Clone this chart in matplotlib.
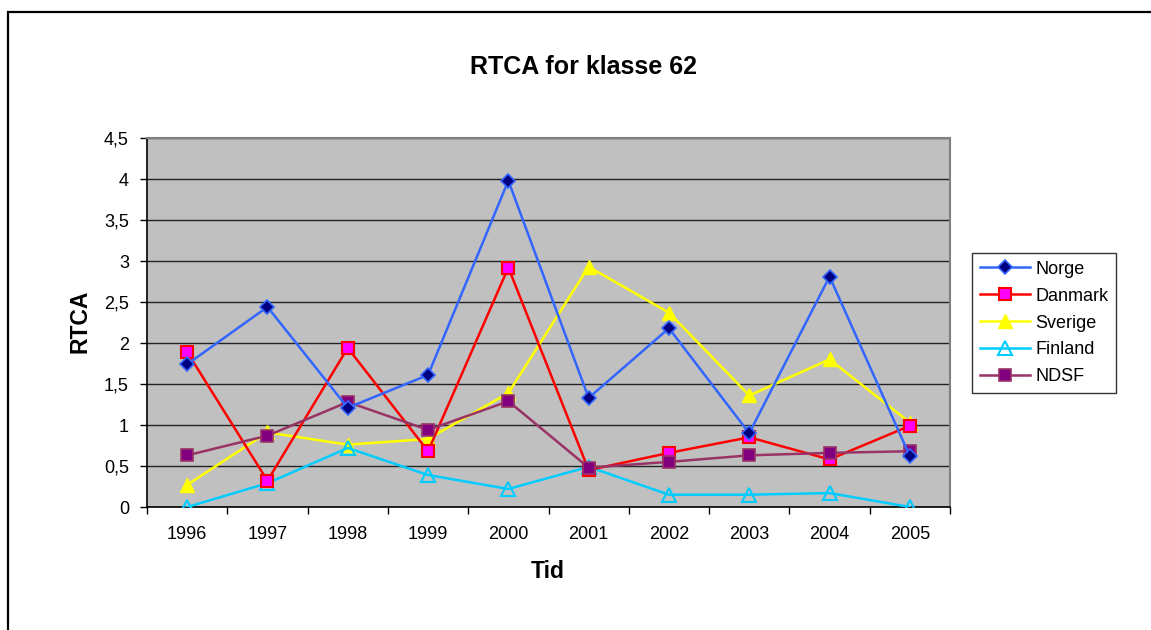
import matplotlib
matplotlib.use("Agg")
import matplotlib.pyplot as plt
from matplotlib.patches import Rectangle
from matplotlib.ticker import FuncFormatter, MultipleLocator, FixedLocator

plt.rcParams["font.family"] = ["Liberation Sans", "DejaVu Sans"]

# data
years = ["1996", "1997", "1998", "1999", "2000", "2001", "2002", "2003", "2004", "2005"]
norge = [1.74, 2.44, 1.21, 1.61, 3.98, 1.33, 2.18, 0.90, 2.81, 0.62]
danmark = [1.89, 0.32, 1.94, 0.68, 2.92, 0.45, 0.66, 0.85, 0.58, 0.99]
sverige = [0.27, 0.91, 0.76, 0.83, 1.39, 2.93, 2.37, 1.36, 1.80, 1.03]
finland = [0.00, 0.29, 0.72, 0.39, 0.22, 0.49, 0.15, 0.15, 0.17, 0.00]
ndsf = [0.63, 0.87, 1.28, 0.94, 1.29, 0.48, 0.55, 0.63, 0.66, 0.68]

W, H = 1151, 630
fig = plt.figure(figsize=(W / 100, H / 100), dpi=100)
fig.patch.set_facecolor("white")

# outer chart border (right and bottom run off the picture)
fig.patches.append(Rectangle((8 / W, -0.05), 1.2, 1 - 12 / H + 0.05,
                             transform=fig.transFigure, fill=False,
                             edgecolor="black", linewidth=1.6))

ax = fig.add_axes([147 / W, 1 - 507 / H, (950 - 147) / W, (507 - 138) / H])
ax.set_facecolor("#C0C0C0")

x = list(range(len(years)))
ax.plot(x, norge, color="#3366FF", lw=1.8, marker="D", ms=7,
        mfc="#000080", mec="#3366FF", mew=1.2, label="Norge", zorder=5)
ax.plot(x, danmark, color="#FF0000", lw=1.8, marker="s", ms=8,
        mfc="#FF00FF", mec="#FF0000", mew=1.5, label="Danmark", zorder=4)
ax.plot(x, sverige, color="#FFFF00", lw=1.8, marker="^", ms=10,
        mfc="#FFFF00", mec="#FFFF00", label="Sverige", zorder=3)
ax.plot(x, finland, color="#00CCFF", lw=1.8, marker="^", ms=10,
        mfc="none", mec="#00CCFF", mew=1.5, label="Finland", zorder=3)
ax.plot(x, ndsf, color="#993366", lw=1.8, marker="s", ms=8,
        mfc="#800080", mec="#993366", mew=1.2, label="NDSF", zorder=4)

ax.set_xlim(-0.5, len(years) - 0.5)
ax.set_ylim(0, 4.5)

ax.yaxis.set_major_locator(MultipleLocator(0.5))
ax.yaxis.set_major_formatter(FuncFormatter(lambda v, p: "{:g}".format(v).replace(".", ",")))
ax.grid(axis="y", color="#222222", lw=1.0)
ax.set_axisbelow(True)

ax.set_xticks(x)
ax.set_xticklabels(years)
ax.xaxis.set_minor_locator(FixedLocator([i - 0.5 for i in range(len(years) + 1)]))
ax.tick_params(axis="x", which="major", length=0, pad=14, labelsize=13)
ax.tick_params(axis="x", which="minor", length=5, width=1, direction="out")
ax.tick_params(axis="y", length=5, width=1, direction="out", pad=8, labelsize=13)

for s in ["left", "bottom"]:
    ax.spines[s].set_color("black")
    ax.spines[s].set_linewidth(1.2)
for s in ["top", "right"]:
    ax.spines[s].set_color("#808080")
    ax.spines[s].set_linewidth(1.5)

fig.text(583 / W, 1 - 67 / H, "RTCA for klasse 62", ha="center", va="center",
         fontsize=18, fontweight="bold")
fig.text(548 / W, 1 - 571 / H, "Tid", ha="center", va="center",
         fontsize=16.5, fontweight="bold")
fig.text(80 / W, 1 - 321 / H, "RTCA", ha="center", va="center", rotation=90,
         fontsize=16.5, fontweight="bold")

leg = fig.legend(loc="center left", bbox_to_anchor=(972 / W, 1 - 323 / H),
                 frameon=True, fancybox=False, fontsize=13, handlelength=2.75,
                 labelspacing=0.55, borderpad=0.45, handletextpad=0.3,
                 borderaxespad=0)
leg.get_frame().set_edgecolor("black")
leg.get_frame().set_linewidth(1.0)

fig.savefig("out.png", dpi=100)
